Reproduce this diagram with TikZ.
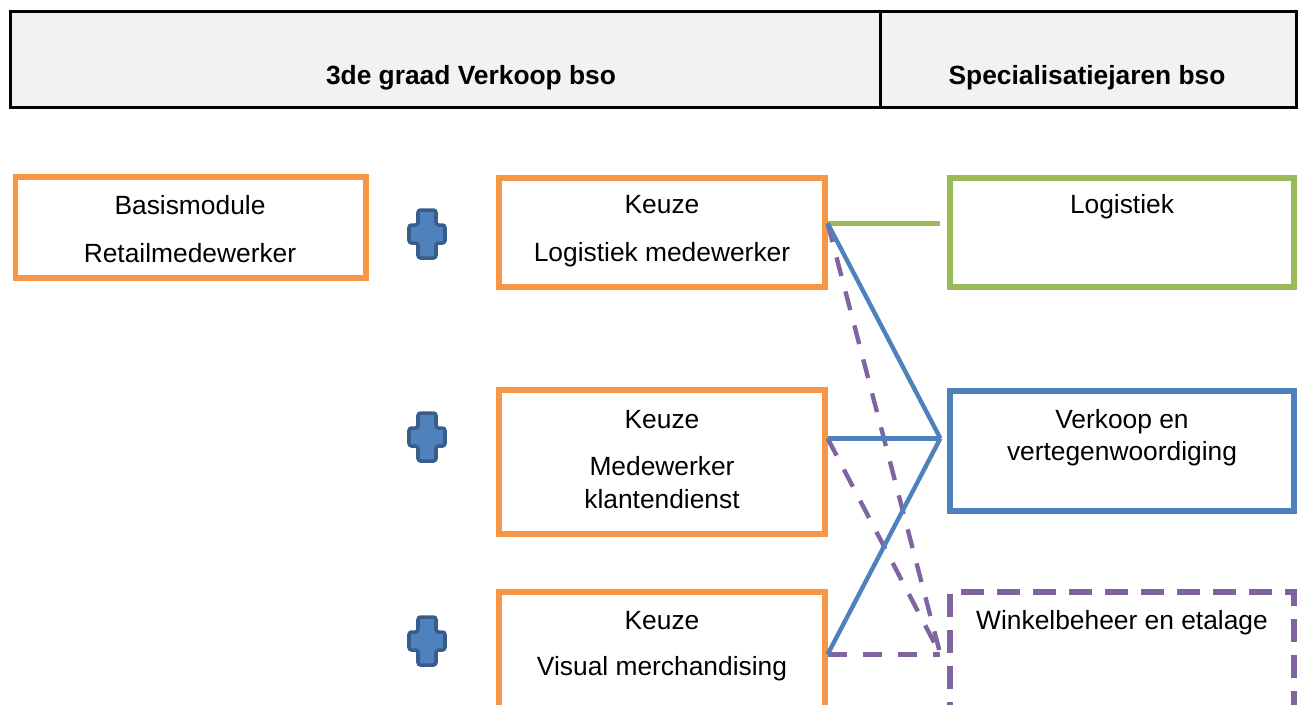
\documentclass[tikz,border=0pt]{standalone}
\usepackage{fontspec}
\setmainfont{Liberation Sans}
\usetikzlibrary{fit,calc}
\definecolor{boxorange}{HTML}{F79646}
\definecolor{boxgreen}{HTML}{9BBB59}
\definecolor{boxblue}{HTML}{4F81BD}
\definecolor{boxpurple}{HTML}{8064A2}
\definecolor{plusedge}{HTML}{385D8A}
\definecolor{headgray}{HTML}{F2F2F2}
\tikzset{
  every node/.style={font=\fontsize{15}{18}\selectfont},
  headcell/.style={draw=black, fill=headgray, line width=1.7pt, inner sep=0pt},
  framebox/.style={draw=#1, line width=3pt, inner sep=0pt},
  label text/.style={anchor=base, inner sep=0pt},
  plusmark/.style={draw=plusedge, fill=boxblue, line width=2pt, rounded corners=1.5pt},
  link/.style={line width=2.5pt},
}
\begin{document}
\begin{tikzpicture}[x=0.02cm, y=-0.02cm]
  \useasboundingbox (0,0) rectangle (1301,704);
  \clip (0,0) rectangle (1301,704);
  % header
  \node[headcell, fit={(10.5,11.5)(880,107.5)}] (graad) {};
  \node[headcell, fit={(880,11.5)(1296,107.5)}] (spec) {};
  \node[label text, font=\fontsize{15}{18}\selectfont\bfseries] (graadtxt) at (471,84) {3de graad Verkoop bso};
  \node[label text, font=\fontsize{15}{18}\selectfont\bfseries] (spectxt) at (1087,84) {Specialisatiejaren bso};
  % boxes
  \node[framebox=boxorange, fit={(15.5,177)(366,278)}] (basis) {};
  \foreach \i/\top/\bot in {1/178/287,2/390/534,3/592/730} {
    \node[framebox=boxorange, fit={(499,\top)(825,\bot)}] (keuze\i) {};
  }
  \node[framebox=boxgreen, fit={(950,178)(1294,287)}] (logistiek) {};
  \node[framebox=boxblue, fit={(950,391)(1294,511)}] (verkoop) {};
  \node[framebox=boxpurple, dash pattern=on 13pt off 7.5pt, fit={(950,592)(1294,730)}] (winkel) {};
  % plus signs
  \foreach \py in {234,437,641} {
    \draw[plusmark, shift={(427,\py)}] (-9,-24) -- (9,-24) -- (9,-9) -- (18,-9) -- (18,9) -- (9,9) -- (9,24) -- (-9,24) -- (-9,9) -- (-18,9) -- (-18,-9) -- (-9,-9) -- cycle;
  }
  % texts
  \node[label text] (basis1) at (190,214) {Basismodule};
  \node[label text] (basis2) at (190,262) {Retailmedewerker};
  \node[label text] (keuze1a) at (662,213) {Keuze};
  \node[label text] (keuze1b) at (662,261) {Logistiek medewerker};
  \node[label text] (keuze2a) at (662,428) {Keuze};
  \node[label text] (keuze2b) at (662,475) {Medewerker};
  \node[label text] (keuze2c) at (662,508) {klantendienst};
  \node[label text] (keuze3a) at (662,629) {Keuze};
  \node[label text] (keuze3b) at (662,675) {Visual merchandising};
  \node[label text] (logtxt) at (1122,213) {Logistiek};
  \node[label text] (verk1) at (1122,428) {Verkoop en};
  \node[label text] (verk2) at (1122,460) {vertegenwoordiging};
  \node[label text] (winktxt) at (1122,629) {Winkelbeheer en etalage};
  % connector ends
  \coordinate (L1) at ($(keuze1.north east)+(0,48)$);
  \coordinate (L2) at ($(keuze2.north east)+(0,51)$);
  \coordinate (L3) at ($(keuze3.north east)+(0,65)$);
  \coordinate (R1) at ($(logistiek.north west)+(-7,48)$);
  \coordinate (R2) at ($(verkoop.north west)+(-7,50)$);
  \coordinate (R3) at ($(winkel.north west)+(-7,65)$);
  % connectors
  \draw[link, boxpurple, dash pattern=on 11pt off 9pt] (L1) -- (R3);
  \draw[link, boxpurple, dash pattern=on 11pt off 9pt] (L2) -- (R3);
  \draw[link, boxpurple, dash pattern=on 11pt off 9pt] (L3) -- (R3);
  \draw[link, boxgreen] (L1) -- (R1);
  \draw[link, boxblue] (L1) -- (R2);
  \draw[link, boxblue] (L2) -- (R2);
  \draw[link, boxblue] (L3) -- (R2);
\end{tikzpicture}
\end{document}
